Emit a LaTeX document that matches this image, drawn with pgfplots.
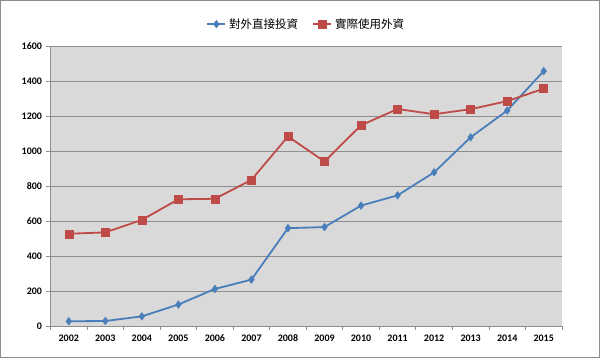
\documentclass[border=0pt]{standalone}
\usepackage{pgfplots}
\pgfplotsset{compat=1.18}
\usepackage{fontspec}
\setmainfont{Carlito}
\newfontfamily\cjk{Noto Sans CJK TC}
\definecolor{sblue}{HTML}{4A7EBB}
\definecolor{sred}{HTML}{BE4B48}
\definecolor{plotbg}{HTML}{D9D9D9}
\definecolor{gridc}{HTML}{8E8E8E}
\begin{document}
\begin{tikzpicture}[x=1pt,y=1pt]
\fill[white] (0,0) rectangle (600,358);
\draw[color=gray!90,line width=1pt] (0.5,0.5) rectangle (599.5,357.5);
\begin{axis}[
  at={(50.5pt,32pt)}, anchor=south west,
  scale only axis, width=511.5pt, height=280pt,
  xmin=-0.5, xmax=13.5, ymin=0, ymax=1600,
  axis background/.style={fill=plotbg},
  axis x line*=bottom, axis y line*=left,
  axis line style={gridc, line width=0.8pt},
  xtick={0,...,13},
  xticklabels={2002,2003,2004,2005,2006,2007,2008,2009,2010,2011,2012,2013,2014,2015},
  major x tick style={draw=none},
  minor xtick={-0.5,0.5,...,13.5},
  minor x tick style={gridc, line width=0.8pt},
  minor tick length=4pt,
  ytick={0,200,...,1600},
  ymajorgrids, grid style={gridc, line width=0.8pt},
  major y tick style={gridc, line width=0.8pt},
  major tick length=4pt,
  tick align=outside,
  ticklabel style={font=\fontsize{10}{12}\selectfont\bfseries},
  /pgf/number format/assume math mode=true,
  yticklabel={\pgfmathprintnumber[1000 sep={}]{\tick}},
  xticklabel style={yshift=-1pt},
  yticklabel style={xshift=-1pt},
  legend columns=2,
  legend style={at={(0.5,1)}, anchor=south, yshift=12pt, draw=none, fill=none,
    font=\cjk\fontsize{11.5}{13}\selectfont,
    /tikz/every odd column/.append style={column sep=1pt},
    /tikz/every even column/.append style={column sep=12pt}},
  legend image code/.code={
    \draw[mark repeat=2,mark phase=2] plot coordinates {(0pt,0pt) (9pt,0pt) (18pt,0pt)};},
]
\addplot[sblue, line width=1.8pt, mark=diamond*, mark size=3.8pt, mark options={fill=sblue, draw=sblue, line width=0.5pt}]
coordinates {(0,27) (1,28.5) (2,55) (3,122.6) (4,211.6) (5,265.1) (6,559.1) (7,565.3) (8,688.1) (9,746.5) (10,878) (11,1078.4) (12,1231.2) (13,1456.7)};
\addlegendentry{對外直接投資}
\addplot[sred, line width=1.8pt, mark=square*, mark size=4pt, mark options={fill=sred, draw=sred, line width=0.5pt}]
coordinates {(0,527) (1,535) (2,606) (3,724) (4,727) (5,835) (6,1083) (7,940) (8,1147) (9,1240) (10,1210) (11,1239) (12,1285) (13,1356)};
\addlegendentry{實際使用外資}
\end{axis}
\end{tikzpicture}
\end{document}
